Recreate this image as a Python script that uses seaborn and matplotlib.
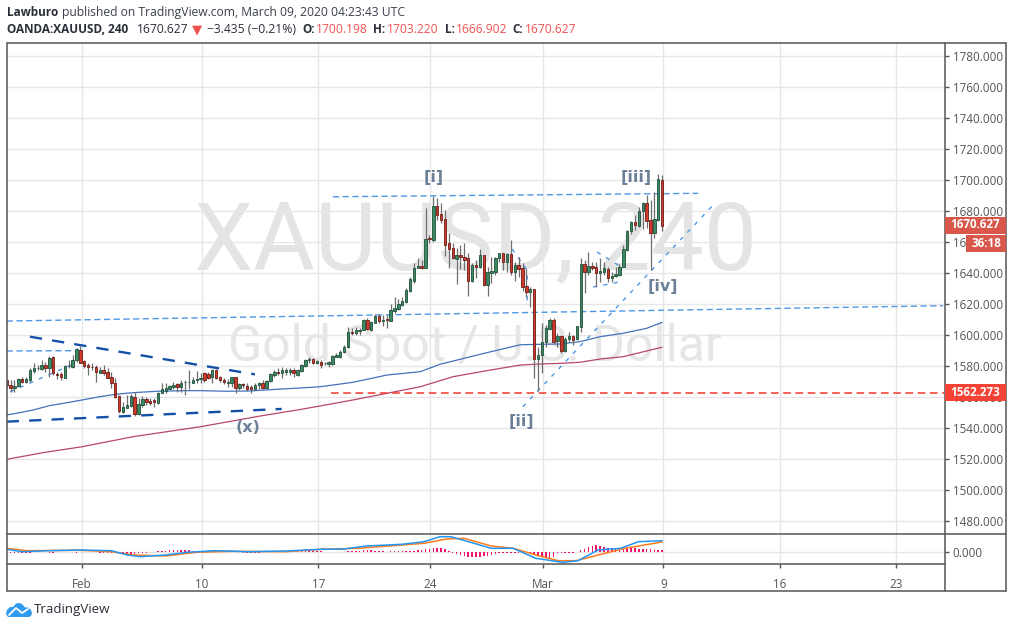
import numpy as np
import pandas as pd
import seaborn as sns
import matplotlib
matplotlib.use("Agg")
import matplotlib.pyplot as plt
from matplotlib.lines import Line2D
from matplotlib.patches import Rectangle, Polygon

opens = [1571.0,1567.7,1566.0,1567.3,1571.6,1569.4,1571.0,1577.0,1578.5,1577.8,1580.6,1578.9,1585.6,1574.8,1574.8,1572.5,1579.8,1579.6,1583.8,1590.3,
1583.0,1580.4,1579.6,1579.1,1575.7,1577.2,1575.9,1573.1,1568.8,1560.6,1550.5,1553.1,1554.2,1559.8,1549.0,1555.0,1558.7,1557.4,1557.8,1556.3,
1562.8,1563.9,1565.4,1566.6,1568.2,1566.6,1569.4,1569.4,1569.2,1571.0,1571.4,1575.2,1574.6,1573.1,1577.4,1572.7,1571.0,1569.2,1569.2,1572.7,
1565.8,1568.4,1567.3,1566.4,1565.1,1567.5,1569.0,1566.0,1570.1,1574.2,1576.4,1575.3,1576.0,1576.4,1577.4,1574.2,1577.0,1580.2,1583.9,1584.5,
1582.2,1582.8,1581.8,1581.3,1581.3,1586.0,1586.0,1589.3,1592.1,1602.0,1601.3,1602.8,1603.2,1609.7,1603.2,1608.0,1612.3,1609.3,1610.3,1609.3,
1615.7,1617.0,1619.4,1621.5,1628.6,1635.1,1643.2,1644.3,1643.5,1662.6,1661.3,1683.2,1678.1,1674.8,1659.2,1656.1,1649.3,1651.4,1650.6,1649.5,
1635.1,1645.0,1644.1,1651.6,1632.3,1640.0,1640.9,1649.7,1652.9,1647.3,1652.1,1640.9,1645.0,1643.0,1631.4,1628.0,1629.5,1584.3,1586.9,1595.7,
1603.9,1609.5,1596.2,1599.2,1589.9,1597.4,1599.2,1597.4,1605.4,1645.6,1640.9,1644.3,1643.7,1640.2,1640.9,1642.4,1637.0,1638.3,1638.7,1644.1,
1654.9,1667.1,1672.7,1670.5,1680.0,1685.2,1674.0,1666.0,1674.2,1700.2]
highs = [1571.0,1571.0,1571.0,1572.5,1573.1,1573.1,1578.5,1581.7,1580.6,1583.8,1582.8,1586.4,1586.4,1576.3,1576.3,1580.6,1583.8,1587.1,1591.4,1592.9,
1583.8,1581.7,1581.7,1580.6,1579.6,1580.6,1578.5,1576.3,1572.0,1561.3,1557.0,1561.3,1561.7,1563.4,1559.1,1560.6,1560.2,1559.1,1559.1,1563.4,
1568.8,1568.8,1567.7,1569.9,1569.2,1571.0,1571.0,1577.4,1573.1,1577.0,1575.2,1576.3,1576.3,1577.8,1577.8,1573.5,1572.0,1571.4,1573.1,1573.1,
1569.2,1569.2,1569.2,1567.7,1568.8,1569.9,1571.0,1571.0,1575.7,1577.4,1578.5,1579.2,1578.5,1578.5,1578.5,1577.9,1581.3,1584.3,1586.1,1585.0,
1583.9,1583.9,1582.8,1583.5,1587.1,1588.2,1590.4,1593.6,1605.4,1604.3,1605.4,1604.3,1610.1,1610.8,1609.3,1613.6,1613.6,1612.9,1612.9,1620.0,
1624.7,1623.0,1624.3,1630.1,1637.6,1646.3,1649.5,1648.4,1681.7,1664.5,1689.7,1688.2,1685.0,1680.7,1665.6,1659.2,1655.9,1658.1,1659.2,1652.7,
1646.7,1648.4,1655.5,1651.6,1644.1,1650.1,1650.6,1653.1,1653.1,1652.7,1661.3,1647.3,1650.6,1646.3,1642.4,1631.2,1629.5,1592.5,1607.6,1606.5,
1610.8,1610.8,1601.5,1600.0,1598.5,1601.8,1600.0,1606.0,1649.5,1648.4,1653.3,1647.3,1647.3,1649.5,1646.9,1644.1,1640.9,1644.1,1645.8,1658.1,
1667.8,1673.8,1677.4,1682.8,1686.0,1690.3,1687.1,1692.5,1703.9,1703.2]
lows = [1566.6,1563.4,1563.4,1566.6,1568.8,1568.8,1569.9,1575.2,1577.4,1577.4,1576.3,1573.1,1574.2,1571.4,1571.0,1572.0,1578.5,1578.5,1582.8,1581.7,
1578.5,1574.2,1577.4,1569.9,1575.2,1574.2,1572.0,1565.6,1559.1,1549.5,1549.5,1552.7,1553.3,1547.9,1548.4,1553.3,1554.8,1554.8,1553.3,1555.5,
1562.3,1562.3,1564.9,1564.9,1563.4,1563.4,1561.3,1564.9,1568.8,1568.8,1568.8,1569.9,1571.4,1568.8,1571.4,1569.9,1568.4,1566.6,1566.6,1562.8,
1564.5,1565.6,1564.1,1562.3,1564.5,1564.9,1564.9,1565.1,1569.7,1573.2,1574.2,1572.1,1574.2,1574.2,1573.2,1573.6,1576.4,1579.6,1582.2,1581.3,
1581.3,1578.7,1580.7,1579.6,1580.7,1585.6,1585.0,1588.6,1591.4,1600.0,1600.0,1600.0,1603.2,1603.2,1602.8,1607.6,1607.6,1606.1,1604.3,1609.1,
1614.4,1616.2,1618.7,1620.9,1628.0,1633.8,1643.0,1642.8,1643.0,1659.6,1660.2,1674.2,1672.1,1651.0,1643.0,1648.8,1632.9,1642.4,1642.0,1625.2,
1634.4,1636.6,1643.0,1631.6,1625.2,1633.8,1638.7,1647.3,1642.0,1640.9,1638.7,1635.1,1637.6,1628.6,1624.8,1618.3,1572.1,1564.1,1575.7,1592.5,
1603.2,1595.1,1592.5,1588.6,1589.3,1595.7,1593.6,1596.8,1602.2,1626.9,1638.7,1641.9,1631.2,1634.4,1638.7,1634.4,1634.4,1637.7,1638.1,1643.7,
1654.4,1665.2,1667.8,1669.9,1668.2,1668.8,1642.0,1662.8,1673.8,1667.3]
closes = [1567.7,1566.0,1567.3,1571.6,1569.9,1571.6,1577.4,1578.5,1578.9,1580.6,1578.9,1585.1,1575.2,1574.4,1573.1,1580.0,1580.0,1583.8,1590.7,1582.1,
1580.0,1579.6,1579.1,1576.3,1577.4,1575.5,1572.5,1568.8,1560.2,1551.0,1553.3,1554.8,1560.6,1548.8,1555.5,1558.7,1557.0,1556.3,1556.8,1562.3,
1564.9,1565.6,1567.1,1567.7,1566.6,1568.8,1569.9,1569.9,1571.0,1571.8,1572.5,1571.0,1572.5,1577.4,1572.2,1571.0,1569.9,1569.7,1572.7,1565.8,
1568.4,1567.5,1565.1,1564.9,1567.5,1569.0,1565.8,1570.3,1574.8,1576.4,1575.3,1577.4,1577.4,1577.4,1575.3,1577.4,1580.7,1583.9,1584.3,1582.2,
1583.3,1580.9,1582.2,1582.4,1586.5,1587.3,1589.3,1592.5,1602.2,1601.5,1603.0,1603.2,1609.7,1603.7,1608.2,1612.3,1609.1,1609.5,1609.9,1616.2,
1617.2,1620.0,1621.9,1629.1,1636.2,1643.2,1644.3,1643.2,1661.9,1662.2,1683.2,1677.4,1674.2,1658.1,1655.7,1649.9,1651.4,1650.6,1648.4,1635.1,
1645.0,1644.1,1651.6,1632.3,1640.4,1641.3,1649.5,1652.9,1647.3,1652.1,1640.9,1645.2,1642.8,1631.2,1628.0,1629.5,1584.3,1586.9,1595.7,1604.3,
1609.5,1595.7,1599.2,1589.9,1597.7,1599.2,1597.0,1606.0,1645.6,1640.9,1644.5,1643.5,1640.2,1641.1,1643.2,1637.0,1638.1,1639.4,1644.1,1655.3,
1667.1,1672.7,1671.2,1680.0,1685.2,1673.8,1666.0,1674.6,1700.6,1670.6]

ma_blue_bar = [0,3.4,6.8,11,15.5,19.5,24,28,32.6,38.8,46.5,49.8,56.8,62.8,69.7,75.6,80.8,89.3,98.1,106.6,111.7,123.8,132.4,137.5,142.7,147.8,153,158.9,165,169]
ma_blue = [1548.4,1549.9,1551.6,1554.4,1556.3,1558.1,1560.2,1561.7,1562.8,1563.7,1564.1,1564.1,1563.7,1563.9,1565.0,1565.8,1566.6,1569.5,1574.2,1576.3,1581.1,1588.6,1593.7,1594.0,1594.2,1595.7,1598.9,1601.1,1604.3,1608.2]
ma_red_bar = [0,9.4,19.4,32.6,49.9,65.3,74.9,80.8,89.3,98.1,106.6,115.1,123.8,132.4,137.5,142.7,147.8,153,158.9,169]
ma_red = [1519.8,1524.1,1527.9,1534.4,1540.8,1547.7,1551.6,1554.2,1558.1,1562.4,1566.6,1573.1,1577.0,1580.6,1581.3,1581.7,1582.4,1584.5,1586.0,1592.1]

macd_bar = [0,4,10.9,19,27,31.1,34.5,40.9,46.6,53.5,62.7,71.9,81.1,86.9,92.7,101.9,107.6,111.7,114.5,119.1,124.9,130.6,136.4,143.3,147.3,152.5,158.3,162.9,169]
macd_val = [2.7,0.3,1.3,2,1.3,-3,-4.7,-3,-0.3,1.3,0.3,1,2.7,3,6,7.7,10.3,15.3,15.3,10.3,3.7,3.7,-6.3,-10.3,-8.7,2,3.7,10.3,11.3]
signal_bar = [0,5.2,19,27,32.8,40.9,48.9,58.1,71.9,81.1,90.4,101.9,107.6,113.4,118,124.9,130.6,136.4,142.2,146.8,152.5,159.4,169]
signal_val = [3.7,1.3,1.7,0.3,-3,-4,-0.3,0.7,0.3,2.7,3.7,7,8.7,13,13.7,6,3.7,-3,-8.7,-8.7,-3,3.7,10]
hist_val = [-1,-1,-1,-1,-1,-1,-1,0,0,0,0,-1,-1,0,0,0,0,0,-1,0,0,0,0,0,
-1,-1,-1,-1,-1,-1,-1.5,-1.5,-1.5,-1.5,-1,-1,-1,0,0,
1,1,1.5,2,2,2,2,2,2,1.5,1.5,1.5,1,1,1,1,1,0,0,0,0,0,-1,-1,-1,-1,-1,0,0,0,
1,1,1,1,1.5,1.5,1.5,1.5,1.5,1,1,1,1,0,0,0,0,0,0,
1,1,1.5,1.5,2,2,2,1.5,1,1,0.5,
1,1,1,1,1,1.5,1.5,2,2,3,3,4,4,4,3,1,
-1,-2,-3,-4,-4.5,-5,-5,-4.5,-4,-3.5,-3,-2,
-0.8,-0.8,-0.8,-0.8,-0.8,-0.8,-0.8,-0.8,-0.8,
-2,-4,-5,-6,-7,-5,-1,-1,-1,-1,-1,0,
2,3,5,6,7,6,5,4,4,4,4,4,4,4,4,3,3,3,3,2,2,2]

price_ticks = list(range(1480, 1800, 20))
time_ticks = [19.3, 50.3, 80.3, 109.2, 138.3, 169.3, 199.4, 229.3]
time_labels = ["Feb", "10", "17", "24", "Mar", "9", "16", "23"]
last_price = 1670.627
level_price = 1562.273

thick_lines = [([6, 64], [1598.9, 1574.6]), ([0, 70.9], [1544.1, 1552.3])]
dashed_lines = [([0, 18.4], [1589.7, 1589.9]), ([0, 241.4], [1609.0, 1618.9]), ([84.1, 178.3], [1689.2, 1691.4])]
dotted_lines = [([0.9, 17.6], [1563.4, 1581.7]), ([133.1, 182.6], [1553.7, 1685.0]),
                ([130.3, 134.2, 134.2], [1655.5, 1641.9, 1621.9]), ([132.9, 134.2], [1638.7, 1643.2]),
                ([152.2, 158.1], [1653.5, 1644.5]), ([151.2, 158.1], [1631.0, 1634.2])]
wave_labels = [("[i]", 110, 1701.9), ("[iii]", 162.3, 1701.9), ("[iv]", 169.2, 1631.6),
               ("[ii]", 132.6, 1543.9), ("(x)", 62.2, 1540.0)]

sns.set_theme(style="white")
plt.rcParams["font.family"] = ["Open Sans", "DejaVu Sans"]

W, H = 1013, 628
fig = plt.figure(figsize=(W / 100, H / 100), dpi=100, facecolor="white")

def box(l, t, r, b):
    return [l / W, 1 - b / H, (r - l) / W, (b - t) / H]

def fx(px):
    return px / W

def fy(py):
    return 1 - py / H

ax = fig.add_axes(box(6.5, 43, 944.5, 533.7))
ax2 = fig.add_axes(box(6.5, 533.7, 944.5, 564))
GRID = "#e6e6e6"
TXT = "#555555"
XLIM = (-0.05, 241.8)

df = pd.DataFrame({"o": opens, "h": highs, "l": lows, "c": closes})
df["bar"] = np.arange(len(df))
up = df[df.c >= df.o]
dn = df[df.c < df.o]

# watermark
ax.text(120.8, 1659, "XAUUSD, 240", fontsize=68, color="#e4e4e4", ha="center", va="center",
        family="Roboto", zorder=0.5)
ax.text(120.8, 1592, "Gold Spot / U.S. Dollar", fontsize=36, color="#e6e6e6", ha="center", va="center",
        family="Roboto", zorder=0.5)

for xs, ys in dashed_lines:
    sns.lineplot(x=xs, y=ys, ax=ax, color="#4f98e6", lw=1, estimator=None, sort=False,
                 linestyle=(0, (4.5, 2.5)), zorder=3, legend=False)
for xs, ys in dotted_lines:
    sns.lineplot(x=xs, y=ys, ax=ax, color="#4f98e6", lw=1, estimator=None, sort=False,
                 linestyle=(0, (3, 4.5)), zorder=3, legend=False)
for xs, ys in thick_lines:
    sns.lineplot(x=xs, y=ys, ax=ax, color="#1550a8", lw=1.7, estimator=None, sort=False,
                 linestyle=(0, (5.2, 4.3)), zorder=3, legend=False)
sns.lineplot(x=ma_blue_bar, y=ma_blue, ax=ax, color="#4472bb", lw=0.9, estimator=None, sort=False, zorder=2, legend=False)
sns.lineplot(x=ma_red_bar, y=ma_red, ax=ax, color="#b8466c", lw=0.9, estimator=None, sort=False, zorder=2, legend=False)
ax.hlines(level_price, 83.6, XLIM[1], color="#f5372a", lw=1.1, linestyles=(0, (5, 3)), zorder=3)

ax.vlines(df.bar, df.l, df.h, color="#6e6e6e", lw=0.9, zorder=4)
ax.bar(up.bar, (up.c - up.o).abs().clip(lower=0.4), bottom=up.o, width=0.62, color="#3c8a63", edgecolor="#1f4f39", lw=0.6, zorder=5)
ax.bar(dn.bar, (dn.o - dn.c).abs().clip(lower=0.4), bottom=dn.c, width=0.62, color="#cf3a2c", edgecolor="#6b1c15", lw=0.6, zorder=5)

for s, bx, p in wave_labels:
    ax.text(bx, p, s, color="#6b8097", fontsize=11.5, fontweight="bold", family="DejaVu Sans",
            ha="center", va="center", zorder=6)

ax.set_xlim(*XLIM)
ax.set_ylim(1471.8, 1788.4)
ax.set_xlabel("")
ax.set_ylabel("")
ax.set_xticks(time_ticks)
ax.set_yticks(price_ticks)
ax.set_yticklabels([f"{v:.3f}" for v in price_ticks])
ax.yaxis.tick_right()
ax.tick_params(axis="y", length=3, width=1, color=TXT, labelcolor=TXT, labelsize=8.4, pad=3, right=True)
ax.tick_params(axis="x", length=0, labelbottom=False)
ax.grid(True, color=GRID, lw=1)
ax.set_axisbelow(True)
for sp in ax.spines.values():
    sp.set_visible(False)

# indicator
sns.barplot(x=np.arange(len(hist_val)), y=hist_val, ax=ax2, native_scale=True, color="#f0146e",
            width=0.4, errorbar=None, zorder=2, linewidth=0, saturation=1)
sns.lineplot(x=signal_bar, y=signal_val, ax=ax2, color="#ff7a1a", lw=1.1, estimator=None, sort=False, zorder=3, legend=False)
sns.lineplot(x=macd_bar, y=macd_val, ax=ax2, color="#2196f3", lw=1.1, estimator=None, sort=False, zorder=3, legend=False)
ax2.set_xlim(*XLIM)
ax2.set_ylim(-12, 18.3)
ax2.set_xlabel("")
ax2.set_ylabel("")
ax2.set_xticks(time_ticks)
ax2.set_xticklabels(time_labels)
ax2.set_yticks([0])
ax2.set_yticklabels(["0.000"])
ax2.yaxis.tick_right()
ax2.tick_params(axis="y", length=3, width=1, color=TXT, labelcolor=TXT, labelsize=8.4, pad=3, right=True)
ax2.tick_params(axis="x", length=3, width=1, color=TXT, labelcolor=TXT, labelsize=8.4, pad=7, bottom=True)
ax2.grid(True, color=GRID, lw=1)
ax2.set_axisbelow(True)
for sp in ax2.spines.values():
    sp.set_visible(False)

# frame
FR = "#555555"
for x0, y0, x1, y1 in [(6.5, 43, 1006, 43), (6.5, 591, 1006, 591), (6.5, 43, 6.5, 591), (1006, 43, 1006, 591),
                       (944.5, 43, 944.5, 591), (6.5, 533.7, 1006, 533.7), (6.5, 564, 944.5, 564)]:
    fig.add_artist(Line2D([fx(x0), fx(x1)], [fy(y0), fy(y1)], color=FR, lw=1.1, zorder=4))

def tag(l, t, r, b, color, s, tx=None):
    fig.add_artist(Rectangle((fx(l), fy(b)), (r - l) / W, (b - t) / H, transform=fig.transFigure,
                             facecolor=color, edgecolor="none", zorder=5))
    fig.text(fx(tx if tx else (l + r) / 2), fy((t + b) / 2 - 0.5), s, color="white", fontsize=8.4, fontweight="bold",
             ha="center", va="center", zorder=6)

tag(944.5, 217, 1006, 234, "#d9574a", f"{last_price:.3f}", tx=975)
tag(966, 235, 1006, 252, "#d9574a", "36:18", tx=986)
tag(944.5, 384, 1006, 401, "#f44336", f"{level_price:.3f}", tx=975)

# header
INK = "#2a2e39"
RED = "#ef5350"
HS = 8.75
def head(px, py, s, color=INK, weight="normal", size=HS, **k):
    fig.text(fx(px), fy(py), s, color=color, fontweight=weight, fontsize=size, ha="left", va="center", **k)

head(7, 12.5, "Lawburo", weight="bold", size=8.5)
head(62, 12.5, "published on TradingView.com, March 09, 2020 04:23:43 UTC", color="#3a3f4b")
head(7, 29.5, "OANDA:XAUUSD, 240", weight="bold", size=8.5)
head(137, 29.5, "1670.627")
fig.text(fx(197.5), fy(29.5), "▼", color=RED, fontsize=9.5, ha="center", va="center", family="DejaVu Sans")
head(207, 29.5, "−3.435 (−0.21%)")
for lx, lab, vx, val in [(302, "O:", 316, "1700.198"), (373, "H:", 387, "1703.220"),
                         (445, "L:", 456, "1666.902"), (512, "C:", 525, "1670.627")]:
    head(lx, 29.5, lab, weight="bold", size=8.5)
    head(vx, 29.5, val, color=RED)

# brand mark
fig.add_artist(Polygon([[fx(a), fy(b)] for a, b in
                        [(6, 614), (7, 610), (10, 607), (13, 607), (16, 603.5), (20, 603), (23, 605), (25, 607.5),
                         (28, 607.5), (31, 610), (32, 613), (31, 616), (29, 617), (8, 617)]],
                       closed=True, transform=fig.transFigure, facecolor="#2f9bf0", edgecolor="none", zorder=5))
fig.add_artist(Line2D([fx(a) for a in (9, 16, 22, 28)], [fy(b) for b in (615, 608, 613, 609)],
                      color="white", lw=1.3, zorder=6))
fig.text(fx(34), fy(609.5), "TradingView", color="#2a2e39", fontsize=9.6, ha="left", va="center")

fig.savefig("out.png", dpi=100, facecolor="white")
